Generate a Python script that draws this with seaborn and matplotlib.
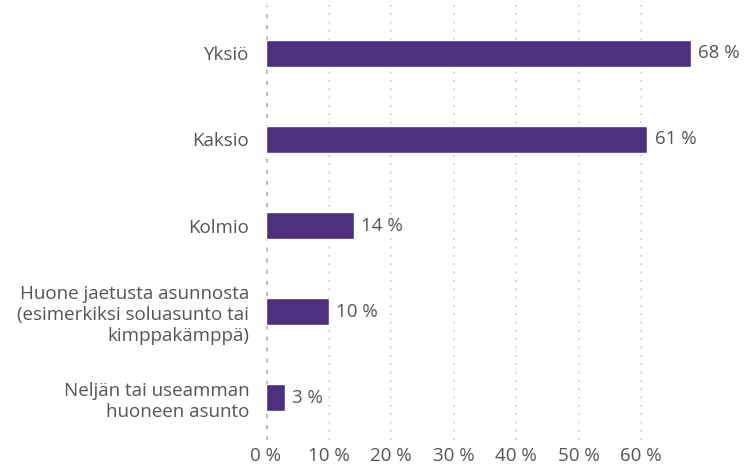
import matplotlib
matplotlib.use("Agg")
import matplotlib.pyplot as plt
import seaborn as sns
import pandas as pd

categories = ["Yksiö", "Kaksio", "Kolmio",
              "Huone jaetusta asunnosta\n(esimerkiksi soluasunto tai\nkimppakämppä)",
              "Neljän tai useamman\nhuoneen asunto"]
values = [68, 61, 14, 10, 3]
xticks = [0, 10, 20, 30, 40, 50, 60]
xtick_labels = ["0 %", "10 %", "20 %", "30 %", "40 %", "50 %", "60 %"]

df = pd.DataFrame({"cat": categories, "val": values})

sns.set_style("white")
plt.rcParams['font.family'] = ['Open Sans', 'DejaVu Sans']
text_color = "#555555"
bar_color = "#4f2f7f"
fs = 13.5

fig = plt.figure(figsize=(7.45, 4.65), dpi=100)
ax = fig.add_axes([266/745, 1-440/465, (716-266)/745, 435/465])
sns.barplot(data=df, x="val", y="cat", orient="h", color=bar_color, width=0.31,
            saturation=1, ax=ax, zorder=3)
ax.set_xlim(0, 72)
ax.set_ylim(4.49, -0.56)
ax.set_xticks(xticks)
ax.set_xticklabels(xtick_labels)
ax.set_xlabel("")
ax.set_ylabel("")
for s in ax.spines.values():
    s.set_visible(False)
ax.tick_params(axis="both", length=0, labelsize=fs, labelcolor=text_color)
ax.tick_params(axis="y", pad=12)
ax.tick_params(axis="x", pad=5)
for x in xticks:
    ax.axvline(x, color="#cccccc" if x else "#bbbbbb", lw=1.2 if x else 2,
               ls=(0, (1, 4)) if x else (0, (1.5, 2.5)), zorder=1)
for lbl in ax.get_yticklabels():
    lbl.set_horizontalalignment("right")
    lbl.set_multialignment("right")
    lbl.set_linespacing(1.2)
for i, v in enumerate(values):
    ax.text(v + 1.2, i, f"{v} %", va="center", ha="left", fontsize=fs, color=text_color)

fig.savefig("out.png", dpi=100)
